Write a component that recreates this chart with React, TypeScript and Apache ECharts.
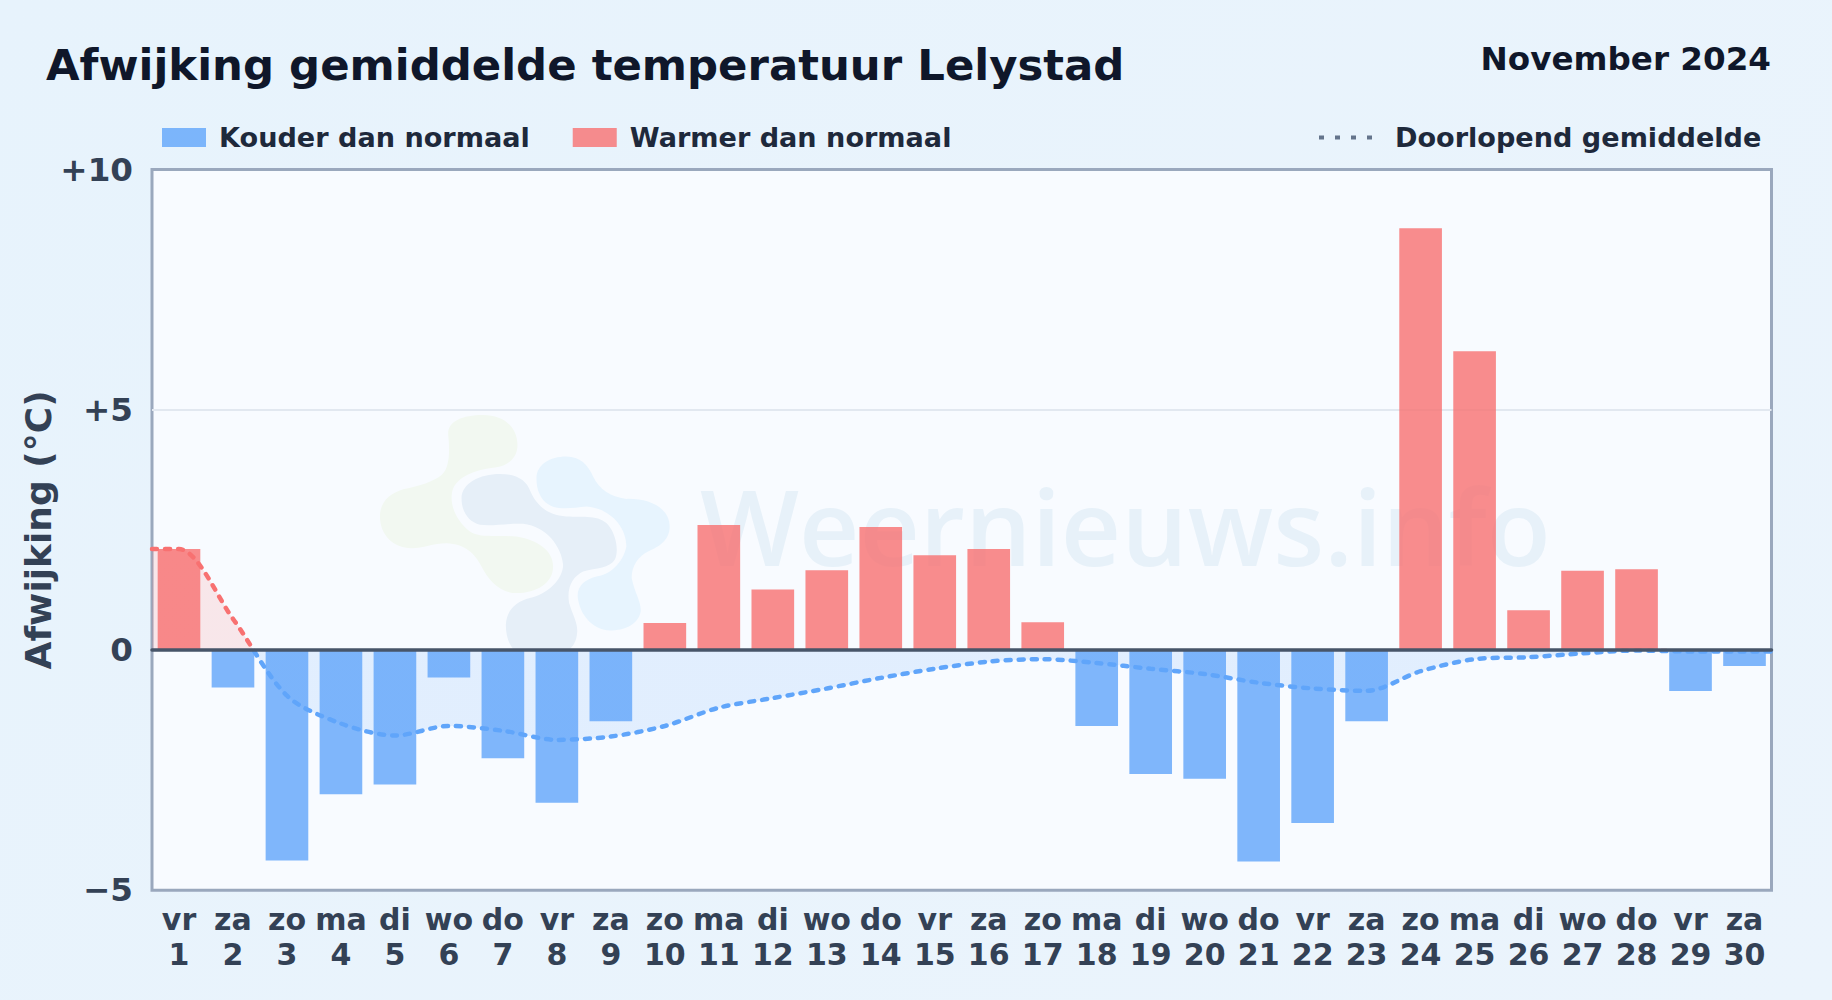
import React, { useEffect, useRef } from "react";
import * as echarts from "echarts";

const weekdays = ["vr","za","zo","ma","di","wo","do","vr","za","zo","ma","di","wo","do","vr","za","zo","ma","di","wo","do","vr","za","zo","ma","di","wo","do","vr","za"];
const days = [1,2,3,4,5,6,7,8,9,10,11,12,13,14,15,16,17,18,19,20,21,22,23,24,25,26,27,28,29,30];
const deviations = [2.1,-0.78,-4.38,-3.0,-2.8,-0.57,-2.25,-3.18,-1.48,0.56,2.6,1.26,1.66,2.56,1.97,2.1,0.58,-1.58,-2.58,-2.68,-4.4,-3.6,-1.48,8.78,6.22,0.83,1.65,1.68,-0.85,-0.33];
const runningMean = [2.1,0.65,-0.95,-1.53,-1.78,-1.58,-1.68,-1.87,-1.8,-1.58,-1.2,-1.0,-0.8,-0.58,-0.39,-0.24,-0.19,-0.27,-0.39,-0.5,-0.68,-0.8,-0.85,-0.44,-0.19,-0.15,-0.07,-0.01,-0.03,-0.03];
const yTicks: Record<string, string> = { "-5": "\u22125", "0": "0", "5": "+5", "10": "+10" };

const FONT = "'DejaVu Sans'";
const COLD = "rgba(96,165,250,0.8)";
const WARM = "rgba(248,113,113,0.8)";

const LOGO_GREEN = "M325 165C322 125 365 105 430 105C490 105 533 140 533 195C533 235 505 255 470 262C415 268 360 285 340 325C325 365 345 420 390 455C420 475 460 465 530 470C590 480 640 510 640 560C640 610 590 640 530 640C480 640 445 600 425 560C405 520 375 492 320 490C280 490 250 505 215 505C160 505 120 465 120 410C120 365 150 340 190 328C240 318 280 305 305 285C330 265 330 210 325 165Z";
const LOGO_DARK = "M365 355C365 310 420 282 480 282C530 282 560 300 572 335C590 375 620 405 680 410C730 412 780 405 805 435C830 465 838 515 825 540C810 565 770 565 730 575C700 590 680 620 688 670C700 710 715 730 712 760C710 785 700 800 690 808L520 808C505 790 498 765 498 735C500 690 530 665 570 655C620 645 670 600 670 555C665 500 620 440 550 432C500 430 460 440 420 435C385 425 365 395 365 355Z";
const LOGO_LIGHT = "M590 295C590 255 630 230 680 230C720 230 745 255 760 290C780 330 810 350 860 357C930 355 990 385 990 440C990 480 960 500 925 515C895 530 875 560 876 595C885 640 905 665 903 695C895 735 855 752 810 752C765 750 725 715 715 660C708 625 730 600 770 590C810 585 850 550 860 500C860 440 810 385 740 380C690 385 640 395 610 360C595 340 590 320 590 295Z";

echarts.graphic.registerShape("logoGreen", echarts.graphic.extendPath(LOGO_GREEN, {}));
echarts.graphic.registerShape("logoDark", echarts.graphic.extendPath(LOGO_DARK, {}));
echarts.graphic.registerShape("logoLight", echarts.graphic.extendPath(LOGO_LIGHT, {}));

const GRID_TOP = 169.5;
const GRID_BOTTOM = 109.7;
const Y_MIN = -5;
const Y_MAX = 10;

export default function App() {
  const ref = useRef<HTMLDivElement>(null);
  useEffect(() => {
    const chart = echarts.init(ref.current!, undefined, { renderer: "svg" });
    const categories = weekdays.map((w, i) => `${w}\n${days[i]}`);
    const meanPoints = [
      [0.5, runningMean[0]],
      ...days.map((d, i) => [d, runningMean[i]]),
      [30.5, runningMean[runningMean.length - 1]],
    ];
    const zeroStop = Y_MAX / (Y_MAX - Y_MIN);
    const meanColor = {
      type: "linear", global: true, x: 0, y: GRID_TOP, x2: 0, y2: 1000 - GRID_BOTTOM,
      colorStops: [
        { offset: 0, color: "#f87171" }, { offset: zeroStop, color: "#f87171" },
        { offset: zeroStop, color: "#60a5fa" }, { offset: 1, color: "#60a5fa" },
      ],
    };
    const logoBase = { x: 340, y: 380, scaleX: 1 / 3, scaleY: 1 / 3, silent: true, z: 1 };
    chart.setOption({
      animation: false,
      backgroundColor: "transparent",
      textStyle: { fontFamily: FONT },
      title: [
        { text: "Afwijking gemiddelde temperatuur Lelystad", left: 46, top: 43, padding: 0,
          textStyle: { fontFamily: FONT, fontSize: 43.4, fontWeight: "bold", color: "#0f172a" } },
        { text: "November 2024", right: 61, top: 42, padding: 0,
          textStyle: { fontFamily: FONT, fontSize: 32.6, fontWeight: "bold", color: "#0f172a" } },
      ],
      legend: [
        { left: 162, top: 124, itemWidth: 44, itemHeight: 19, itemGap: 43, padding: 0, icon: "rect",
          data: ["Kouder dan normaal", "Warmer dan normaal"],
          textStyle: { fontFamily: FONT, fontSize: 27.1, fontWeight: "bold", color: "#1e293b", padding: [0, 0, 0, 8] } },
        { left: 1317, top: 124, itemWidth: 56, itemHeight: 19, padding: 0,
          data: ["Doorlopend gemiddelde"],
          lineStyle: { color: "#64748b", width: 4, type: [5, 11], cap: "butt" },
          itemStyle: { color: "transparent", opacity: 0 },
          textStyle: { fontFamily: FONT, fontSize: 27.1, fontWeight: "bold", color: "#1e293b", padding: [0, 0, 0, 15] } },
      ],
      grid: { left: 152, right: 60.5, top: GRID_TOP, bottom: GRID_BOTTOM, show: true, backgroundColor: "#f8fbff", borderColor: "#9aa8bd", borderWidth: 3 },
      xAxis: [
        { type: "category", data: categories, position: "bottom",
          axisLine: { show: false, onZero: false }, axisTick: { show: false }, splitLine: { show: false },
          axisLabel: { interval: 0, margin: 12, fontFamily: FONT, fontSize: 30, fontWeight: "bold", color: "#334155", lineHeight: 34.5 } },
        { type: "value", min: 0.5, max: 30.5, z: 10,
          axisLine: { show: true, onZero: true, lineStyle: { color: "#475569", width: 3.5 } },
          axisTick: { show: false }, axisLabel: { show: false }, splitLine: { show: false } },
      ],
      yAxis: {
        type: "value", min: Y_MIN, max: Y_MAX, interval: 5,
        name: "Afwijking (\u00b0C)", nameLocation: "middle", nameRotate: 90, nameGap: 96, nameMoveOverlap: false,
        nameTextStyle: { fontFamily: FONT, fontSize: 36, fontWeight: "bold", color: "#334155" },
        axisLine: { show: false }, axisTick: { show: false },
        axisLabel: { margin: 19, fontFamily: FONT, fontSize: 32.6, fontWeight: "bold", color: "#334155",
          formatter: (v: number) => yTicks[String(v)] ?? String(v) },
        splitLine: { show: true, showMinLine: false, showMaxLine: false, lineStyle: { color: "#e2e8f0", width: 2 } },
      },
      graphic: [
        { type: "logoGreen", ...logoBase, style: { fill: "#f2f8f1" } },
        { type: "logoDark", ...logoBase, style: { fill: "#e6eff8" } },
        { type: "logoLight", ...logoBase, style: { fill: "#e7f4fe" } },
        { type: "text", x: 700, y: 473, z: 1, silent: true,
          style: { text: "Weernieuws.info", fontFamily: "'Open Sans'", fontSize: 104.8, fontWeight: 600, fill: "#e7f1f9" } },
      ],
      series: [
        { name: "Kouder dan normaal", type: "bar", stack: "dev", barWidth: "79%", itemStyle: { color: COLD },
          data: deviations.map((v) => (v < 0 ? v : null)) },
        { name: "Warmer dan normaal", type: "bar", stack: "dev", barWidth: "79%", itemStyle: { color: WARM },
          data: deviations.map((v) => (v >= 0 ? v : null)) },
        { name: "Doorlopend gemiddelde", type: "line", xAxisIndex: 1, data: meanPoints, symbol: "none",
          smooth: 0.3, z: 4,
          lineStyle: { color: meanColor, width: 4.5, type: [5, 8], cap: "round" },
          areaStyle: { color: meanColor, opacity: 0.15 } },
      ],
    });
    return () => chart.dispose();
  }, []);
  return (
    <div ref={ref} style={{ position: "absolute", left: 0, top: 0, width: 1832, height: 1000, background: "linear-gradient(135deg, #e7f3fc, #ebf4fc)" }} />
  );
}
